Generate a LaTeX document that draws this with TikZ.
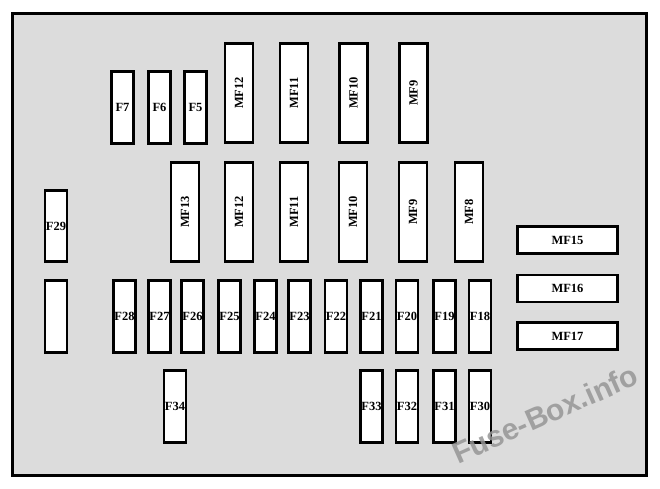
\documentclass[tikz,border=0pt]{standalone}
\usepackage{fontspec}
\setmainfont{Liberation Serif}
\setsansfont{Liberation Sans}
\usepackage{tikz}
\usetikzlibrary{calc,backgrounds}
\definecolor{boxgray}{RGB}{220,220,220}
\definecolor{markgray}{RGB}{150,150,150}
\tikzstyle{Fuse}=[shape=rectangle,draw=black,fill=white,line width=2.6pt,inner sep=0pt,minimum width=22pt,minimum height=72pt,font=\bfseries\fontsize{12.5}{12.5}\selectfont]
\tikzstyle{MFvert}=[Fuse,rotate=90,minimum width=99pt,minimum height=28pt]
\tikzstyle{MFside}=[Fuse,minimum width=100pt,minimum height=27pt]

\begin{document}
\begin{tikzpicture}[x=1pt,y=-1pt]

\useasboundingbox (0,0) rectangle (660,488);
\draw[line width=3pt,fill=boxgray] (12.5,13.5) rectangle (646.5,475.5);

% top row
\node[Fuse] (F7) at (122.5,107.5){F7};
\node[Fuse] (F6) at (159.5,107.5){F6};
\node[Fuse] (F5) at (195.5,107.5){F5};
\node[MFvert] (MF12a) at (239,93){MF12};
\node[MFvert] (MF11a) at (294,93){MF11};
\node[MFvert] (MF10a) at (353.5,93){MF10};
\node[MFvert] (MF9a) at (413.5,93){MF9};

% middle row
\node[Fuse,minimum height=71pt] (F29) at (56,226){F29};
\node[MFvert] (MF13) at (185,212){MF13};
\node[MFvert] (MF12b) at (239,212){MF12};
\node[MFvert] (MF11b) at (294,212){MF11};
\node[MFvert] (MF10b) at (353,212){MF10};
\node[MFvert] (MF9b) at (413,212){MF9};
\node[MFvert] (MF8) at (469,212){MF8};

\node[MFside] (MF15) at (567.5,240){MF15};
\node[MFside] (MF16) at (567.5,288.5){MF16};
\node[MFside] (MF17) at (567.5,336){MF17};

% lower row
\node[Fuse] (EMPTY) at (56,316.5){};
\node[Fuse] (F28) at (124.5,316.5){F28};
\node[Fuse] (F27) at (159.5,316.5){F27};
\node[Fuse] (F26) at (192.5,316.5){F26};
\node[Fuse] (F25) at (229.5,316.5){F25};
\node[Fuse] (F24) at (265.5,316.5){F24};
\node[Fuse] (F23) at (299.5,316.5){F23};
\node[Fuse] (F22) at (336,316.5){F22};
\node[Fuse] (F21) at (371.5,316.5){F21};
\node[Fuse] (F20) at (407,316.5){F20};
\node[Fuse] (F19) at (444.5,316.5){F19};
\node[Fuse] (F18) at (480,316.5){F18};

% bottom row
\node[Fuse] (F34) at (175,406.5){F34};
\node[Fuse] (F33) at (371.5,406.5){F33};
\node[Fuse] (F32) at (407,406.5){F32};
\node[Fuse] (F31) at (444.5,406.5){F31};
\node[Fuse] (F30) at (480,406.5){F30};

\node[rotate=24,text=markgray,opacity=0.85,font=\sffamily\bfseries\fontsize{30}{30}\selectfont] (MARK) at (545,414){Fuse-Box.info};

\end{tikzpicture}
\end{document}
